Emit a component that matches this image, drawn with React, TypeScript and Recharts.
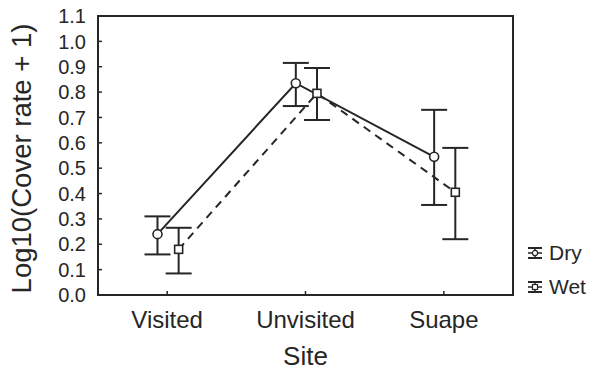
import React from "react"
import { ComposedChart, Line, XAxis, YAxis, ErrorBar, ReferenceArea, Legend } from "recharts"

const SITES = ["Visited", "Unvisited", "Suape"]

const DRY_MEAN = [0.24, 0.835, 0.545]
const DRY_LOW = [0.16, 0.745, 0.355]
const DRY_HIGH = [0.31, 0.915, 0.73]

const WET_MEAN = [0.18, 0.795, 0.405]
const WET_LOW = [0.085, 0.69, 0.22]
const WET_HIGH = [0.265, 0.895, 0.58]

const Y_TICKS = [0, 0.1, 0.2, 0.3, 0.4, 0.5, 0.6, 0.7, 0.8, 0.9, 1.0, 1.1]

const INK = "#262626"
const FONT = "'Liberation Sans', Arial, sans-serif"
const DRY_SHIFT = -0.07
const WET_SHIFT = 0.083

const dryData = SITES.map((site, i) => ({
  site,
  x: i + DRY_SHIFT,
  value: DRY_MEAN[i],
  err: [DRY_MEAN[i] - DRY_LOW[i], DRY_HIGH[i] - DRY_MEAN[i]],
}))

const wetData = SITES.map((site, i) => ({
  site,
  x: i + WET_SHIFT,
  value: WET_MEAN[i],
  err: [WET_MEAN[i] - WET_LOW[i], WET_HIGH[i] - WET_MEAN[i]],
}))

const CircleDot = (props: any) => {
  const { cx, cy } = props
  if (cx == null || cy == null) return null
  return <circle cx={cx} cy={cy} r={4.5} fill="#fff" stroke={INK} strokeWidth={1.6} />
}

const SquareDot = (props: any) => {
  const { cx, cy } = props
  if (cx == null || cy == null) return null
  return <rect x={cx - 4} y={cy - 4} width={8} height={8} fill="#fff" stroke={INK} strokeWidth={1.6} />
}

const YTick = (props: any) => {
  const { x, y, payload } = props
  return (
    <g>
      <line x1={x} x2={x + 4} y1={y} y2={y} stroke={INK} strokeWidth={1.5} />
      <text x={x - 12} y={y} dy="0.36em" textAnchor="end" fontSize={20} fontFamily={FONT} fill={INK}>
        {Number(payload.value).toFixed(1)}
      </text>
    </g>
  )
}

const XTick = (props: any) => {
  const { x, y, payload } = props
  return (
    <g>
      <line x1={x} x2={x} y1={y} y2={y - 4} stroke={INK} strokeWidth={1.5} />
      <text x={x} y={y + 33} textAnchor="middle" fontSize={24} fontFamily={FONT} fill={INK}>
        {SITES[payload.value]}
      </text>
    </g>
  )
}

const YLabel = (props: any) => {
  const { viewBox } = props
  const cx = viewBox.x + 21
  const cy = viewBox.y + viewBox.height / 2 + 3
  return (
    <text
      x={cx}
      y={cy}
      transform={`rotate(-90 ${cx} ${cy})`}
      textAnchor="middle"
      dy="0.36em"
      fontSize={27.5}
      fontFamily={FONT}
      fill={INK}
    >
      Log10(Cover rate + 1)
    </text>
  )
}

const XLabel = (props: any) => {
  const { viewBox } = props
  return (
    <text x={viewBox.x + viewBox.width / 2} y={viewBox.y + 70} textAnchor="middle" fontSize={26} fontFamily={FONT} fill={INK}>
      Site
    </text>
  )
}

const LegendSymbol = ({ square }: { square: boolean }) => (
  <svg width={16} height={14} style={{ marginRight: 6 }}>
    <line x1={1} x2={15} y1={2} y2={2} stroke={INK} strokeWidth={2} />
    <line x1={1} x2={15} y1={12} y2={12} stroke={INK} strokeWidth={2} />
    <line x1={8} x2={8} y1={2} y2={12} stroke={INK} strokeWidth={1.5} />
    <line x1={1} x2={15} y1={7} y2={7} stroke={INK} strokeWidth={1.5} />
    {square ? (
      <rect x={5.5} y={4.5} width={5} height={5} fill="#fff" stroke={INK} strokeWidth={1.2} />
    ) : (
      <circle cx={8} cy={7} r={2.6} fill="#fff" stroke={INK} strokeWidth={1.2} />
    )}
  </svg>
)

const LegendContent = () => (
  <div style={{ fontFamily: FONT, fontSize: 21, color: INK, lineHeight: "34px" }}>
    <div style={{ display: "flex", alignItems: "center" }}>
      <LegendSymbol square={false} />
      Dry
    </div>
    <div style={{ display: "flex", alignItems: "center" }}>
      <LegendSymbol square={true} />
      Wet
    </div>
  </div>
)

export default function App() {
  return (
    <div style={{ position: "absolute", left: 0, top: 0, width: 606, height: 371, background: "#fff" }}>
      <ComposedChart width={606} height={371} margin={{ top: 16, right: 93, left: 0, bottom: 0 }}>
        <XAxis
          type="number"
          dataKey="x"
          domain={[-0.5, 2.5]}
          ticks={[0, 1, 2]}
          interval={0}
          allowDataOverflow
          height={76}
          axisLine={false}
          tickLine={false}
          tickSize={0}
          tickMargin={0}
          tick={<XTick />}
          label={<XLabel />}
        />
        <YAxis
          type="number"
          domain={[0, 1.1]}
          ticks={Y_TICKS}
          interval={0}
          width={98}
          axisLine={false}
          tickLine={false}
          tickSize={0}
          tickMargin={0}
          tick={<YTick />}
          label={<YLabel />}
        />
        <ReferenceArea x1={-0.5} x2={2.5} y1={0} y2={1.1} fill="none" stroke={INK} strokeWidth={2} />
        <Line
          data={dryData}
          dataKey="value"
          name="Dry"
          stroke={INK}
          strokeWidth={2}
          dot={<CircleDot />}
          activeDot={false}
          isAnimationActive={false}
        >
          <ErrorBar dataKey="err" width={13} stroke={INK} strokeWidth={2} direction="y" />
        </Line>
        <Line
          data={wetData}
          dataKey="value"
          name="Wet"
          stroke={INK}
          strokeWidth={2}
          strokeDasharray="8 6"
          dot={<SquareDot />}
          activeDot={false}
          isAnimationActive={false}
        >
          <ErrorBar dataKey="err" width={13} stroke={INK} strokeWidth={2} direction="y" />
        </Line>
        <Legend
          content={<LegendContent />}
          layout="horizontal"
          verticalAlign="middle"
          align="center"
          wrapperStyle={{ position: "absolute", left: 527, top: 236, width: 80, right: "auto", bottom: "auto" }}
        />
      </ComposedChart>
    </div>
  )
}
